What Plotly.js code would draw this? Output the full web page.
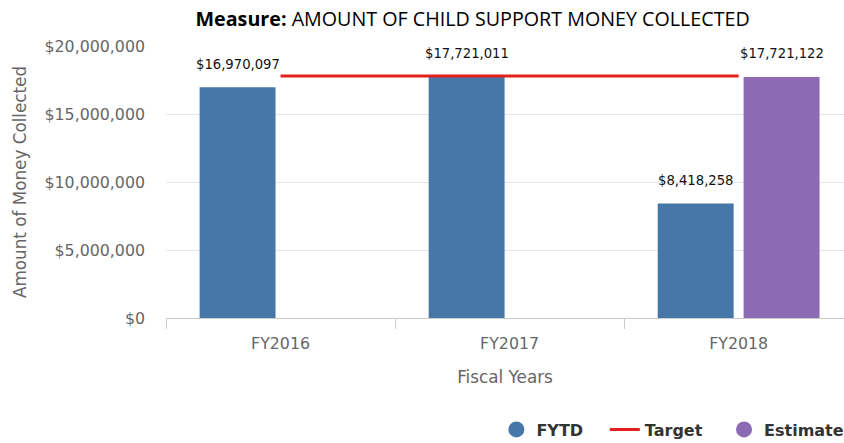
<!DOCTYPE html>
<html>
<head>
<meta charset="utf-8">
<script src="https://cdn.plot.ly/plotly-3.0.1.min.js"></script>
<style>html,body{margin:0;padding:0;background:#fff;}#chart{width:844px;height:443px;}</style>
</head>
<body>
<div id="chart"></div>
<script>
const categories = ['FY2016', 'FY2017', 'FY2018'];
const fytd = [16970097, 17721011, 8418258];
const estimate = [null, null, 17721122];
const target = [17800000, 17800000, 17800000];
const yTickVals = [0, 5000000, 10000000, 15000000, 20000000];
const yTickText = ['$0', '$5,000,000', '$10,000,000', '$15,000,000', '$20,000,000'];
const legendNames = ['FYTD', 'Target', 'Estimate'];

const fmt = v => '$' + v.toLocaleString('en-US');
const BLUE = '#4777a9', PURPLE = '#8c6ab4', RED = '#e3201c';
const PAD = '\u00a0\u00a0\u00a0';

const traces = [
  {type:'bar', x:categories, y:fytd, name:legendNames[0], marker:{color:BLUE}, showlegend:false, hoverinfo:'skip'},
  {type:'bar', x:categories, y:estimate, name:legendNames[2], marker:{color:PURPLE}, showlegend:false, hoverinfo:'skip'},
  {type:'scatter', mode:'markers', x:[categories[0]], y:[null], name:legendNames[0] + PAD, marker:{color:BLUE, size:16, symbol:'circle'}},
  {type:'scatter', mode:'lines', x:categories, y:target, name:legendNames[1] + PAD, line:{color:RED, width:3}},
  {type:'scatter', mode:'markers', x:[categories[0]], y:[null], name:legendNames[2], marker:{color:PURPLE, size:16, symbol:'circle'}}
];

const labelFont = {family:'DejaVu Sans', size:13.2, color:'#111'};
const annotations = [];
categories.forEach((c, i) => {
  if (fytd[i] != null) annotations.push({x:c, y:fytd[i], xref:'x', yref:'y', text:fmt(fytd[i]), showarrow:false, xshift:-43, yshift:23, font:labelFont});
  if (estimate[i] != null) annotations.push({x:c, y:estimate[i], xref:'x', yref:'y', text:fmt(estimate[i]), showarrow:false, xshift:43, yshift:23, font:labelFont});
});

const tickFont = {family:'DejaVu Sans', size:15.8, color:'#666'};
const axTitleFont = {family:'DejaVu Sans', size:16.8, color:'#666'};

const layout = {
  width:844, height:443,
  margin:{l:166, r:0, t:46, b:125, autoexpand:false},
  paper_bgcolor:'#fff', plot_bgcolor:'#fff',
  title:{text:'<b>Measure:</b> AMOUNT OF CHILD SUPPORT MONEY COLLECTED', xref:'container', x:0.56, xanchor:'center', yref:'container', y:0.958, yanchor:'middle',
         font:{family:'Open Sans, sans-serif', size:19.7, color:'#000'}},
  barmode:'group', bargap:0.25, bargroupgap:0.116,
  xaxis:{type:'category', range:[-0.5, 2.46], automargin:false, showline:true, linecolor:'#cccccc', linewidth:1,
         tickson:'boundaries', ticks:'outside', ticklen:10, tickcolor:'#cccccc', showgrid:false,
         ticklabelstandoff:11, tickfont:tickFont,
         title:{text:'Fiscal Years', font:axTitleFont, standoff:19}},
  yaxis:{range:[0, 20000000], automargin:false, tickvals:yTickVals, ticktext:yTickText, showgrid:true, gridcolor:'#e6e6e6', gridwidth:1,
         zeroline:false, showline:false, ticklabelstandoff:20, tickfont:tickFont,
         title:{text:'Amount of Money Collected', font:axTitleFont, standoff:13}},
  legend:{orientation:'h', xref:'paper', x:1.008, xanchor:'right', yref:'paper', y:-0.41, yanchor:'middle',
          font:{family:'DejaVu Sans', size:16, color:'#333', weight:'bold'}},
  annotations:annotations,
  showlegend:true
};

Plotly.newPlot('chart', traces, layout, {displayModeBar:false, staticPlot:true});
</script>
</body>
</html>
